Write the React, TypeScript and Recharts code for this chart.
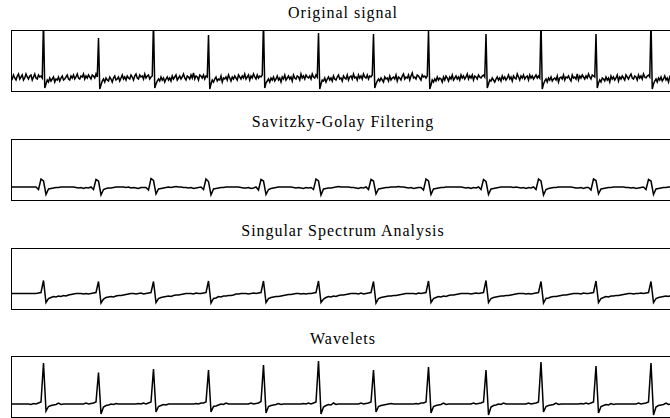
import { LineChart, Line, XAxis, YAxis } from "recharts";

// sample values (height above the bottom of each panel), one row per heartbeat
// raw signal is sampled twice as densely as the filtered ones
const originalSignal = [
    14, 12, 16, 13, 11, 15, 17, 12, 14, 16, 11, 13, 17, 14, 12, 15, 16, 11, 14, 17, 13, 12, 16, 14, 15, 13,
    70, 3, 7, 11, 9, 13, 10, 12, 14, 9, 12, 11, 14, 10, 13, 15, 11, 12, 14, 16, 12, 11, 15, 13, 16, 12, 14, 17, 13, 12, 15, 14, 17, 12, 15, 13, 16, 14, 12, 16, 15, 13, 17, 14,
    53, 2, 6, 10, 12, 9, 13, 11, 10, 14, 12, 9, 13, 15, 11, 12, 14, 10, 13, 16, 12, 14, 11, 15, 13, 12, 16, 14, 11, 15, 17, 13, 12, 16, 14, 15, 12, 17, 13, 15, 16, 12, 14, 15,
    70, 3, 7, 10, 12, 10, 14, 11, 13, 9, 12, 14, 11, 13, 10, 15, 12, 14, 16, 11, 13, 15, 12, 14, 17, 13, 11, 15, 14, 12, 16, 13, 18, 12, 15, 14, 11, 16, 15, 13, 16, 12, 15, 14,
    56, 2, 7, 11, 9, 12, 14, 10, 12, 11, 15, 9, 13, 12, 14, 11, 16, 13, 10, 14, 12, 15, 13, 11, 16, 14, 12, 15, 13, 17, 12, 14, 16, 11, 15, 13, 17, 14, 12, 16, 13, 15, 14, 16,
    70, 3, 8, 10, 12, 9, 13, 11, 14, 10, 12, 15, 11, 13, 9, 14, 12, 16, 11, 13, 15, 12, 14, 10, 16, 13, 12, 15, 14, 11, 17, 13, 15, 12, 16, 14, 13, 15, 12, 17, 14, 13, 16, 14,
    58, 2, 7, 11, 10, 13, 9, 12, 14, 11, 13, 10, 15, 12, 11, 14, 16, 12, 13, 10, 15, 13, 12, 16, 11, 14, 15, 12, 17, 13, 14, 11, 16, 13, 15, 12, 17, 14, 13, 16, 12, 15, 14, 16,
    57, 3, 7, 10, 12, 10, 13, 11, 9, 14, 12, 13, 10, 15, 11, 13, 14, 12, 16, 10, 14, 13, 11, 15, 17, 12, 14, 13, 16, 11, 15, 18, 13, 14, 12, 16, 15, 13, 11, 16, 14, 15, 13, 15,
    60, 2, 6, 11, 9, 12, 10, 14, 11, 13, 12, 9, 14, 11, 15, 13, 10, 14, 12, 16, 11, 13, 15, 12, 14, 11, 16, 13, 15, 12, 14, 17, 12, 15, 13, 16, 11, 15, 14, 12, 16, 14, 13, 15, 16, 14,
    57, 3, 7, 11, 10, 13, 11, 9, 12, 14, 11, 13, 10, 15, 12, 14, 11, 13, 16, 12, 14, 10, 15, 13, 12, 17, 14, 11, 15, 13, 16, 12, 14, 15, 11, 16, 13, 15, 12, 14, 16, 13, 15, 13,
    70, 2, 7, 10, 12, 9, 13, 11, 14, 10, 12, 13, 11, 15, 9, 13, 14, 12, 16, 11, 14, 13, 15, 12, 10, 16, 13, 14, 12, 17, 11, 15, 13, 16, 14, 12, 15, 13, 17, 14, 12, 16, 15, 14,
    57, 3, 8, 11, 9, 13, 12, 10, 14, 11, 13, 9, 15, 12, 14, 11, 13, 16, 10, 14, 12, 15, 13, 11, 16, 14, 12, 15, 17, 13, 12, 15, 14, 11, 16, 13, 15, 12, 17, 14, 13, 15, 16, 14,
    70, 2, 7, 10, 12, 9, 13, 11, 14, 10, 12, 15, 11, 13, 9, 14, 12, 15, 13, 11, 14
];

const savitzkyGolay = [
    13, 13, 13, 13, 13, 13, 13, 13, 13, 13, 13, 10.5,
    21, 19, 5.5, 11, 11.5, 12, 12.5, 12.5, 13, 13, 13, 13, 13, 13, 12.5, 12, 12.5, 11.5, 12.5, 12, 13, 10.5,
    20.5, 19, 5, 10.5, 11.5, 12, 12, 12.5, 13, 13, 13, 13, 12.5, 13, 12, 12.5, 12, 11.5, 12.5, 12.5, 12.5, 10,
    21.5, 19.5, 6, 11, 11.5, 12, 12.5, 13, 12.5, 13, 13.5, 13, 13, 12.5, 12.5, 12, 12.5, 11.5, 12, 12.5, 13, 10.5,
    21, 18.5, 5, 11, 11.5, 12, 12.5, 12.5, 13, 13, 13, 13, 13, 13, 12.5, 12, 12, 12.5, 11.5, 12, 13, 10,
    20.5, 19, 5.5, 10.5, 11.5, 12, 12.5, 13, 13, 13, 13, 13, 13, 12.5, 12, 12.5, 12, 11.5, 12.5, 12, 12.5, 10.5,
    21, 19, 5, 11, 11.5, 12, 12, 12.5, 13, 13.5, 13, 13, 13, 13, 12.5, 12.5, 12, 11.5, 12.5, 12, 13, 10.5,
    20.5, 19, 6, 11, 11.5, 12, 12.5, 12.5, 13, 13, 13, 13.5, 13, 13, 12.5, 12, 12.5, 11.5, 12, 12.5, 12.5, 10,
    21, 19, 5.5, 11, 11.5, 12, 12.5, 12.5, 13, 13, 13, 13, 13, 13, 13, 12.5, 12, 12.5, 11.5, 12.5, 12, 13, 10.5,
    20.5, 18.5, 5.5, 11, 11.5, 12, 12.5, 13, 13, 13, 13, 13, 12.5, 13, 12.5, 12, 12.5, 11.5, 12.5, 12, 13, 10.5,
    21, 19, 5, 10.5, 11.5, 12, 12.5, 12.5, 13, 13, 13, 13, 13, 13, 12.5, 12, 12, 12.5, 11.5, 12.5, 12.5, 10,
    21, 19.5, 6, 11, 11.5, 12, 12.5, 12.5, 13, 13, 13, 13, 13, 12.5, 12.5, 12, 12.5, 11.5, 12, 12.5, 13, 10.5,
    20.5, 19, 5.5, 11, 11.5, 12, 12.5, 12.5, 13, 13, 13, 13
];

const singularSpectrum = [
    15.5, 15.5, 15.5, 15.5, 15.5, 15.5, 15.5, 15.5, 15.5, 15.5, 15.5, 16, 16.5,
    28.5, 6.5, 10.5, 11.5, 12.5, 12, 13, 12.5, 13.5, 13, 14, 14.5, 15, 15.5, 15.5, 15.5, 15, 15.5, 15, 15.5, 16, 16.5,
    27.5, 6, 10, 11.5, 12, 12.5, 12, 13, 13.5, 13.5, 14, 14.5, 15, 15.5, 15.5, 15, 15.5, 16, 15, 15.5, 16, 16.5,
    27.5, 6.5, 10.5, 11.5, 12, 12.5, 13, 12.5, 13.5, 14, 14, 14.5, 15, 15.5, 15.5, 15.5, 15, 16, 15.5, 15.5, 16, 16.5,
    28, 6, 10.5, 11, 12.5, 12, 13, 13, 13.5, 13.5, 14, 15, 15, 15.5, 15.5, 15.5, 15, 15.5, 16, 15.5, 16, 16.5,
    28, 6.5, 10.5, 11.5, 12, 12.5, 12.5, 13, 13.5, 14, 14.5, 14.5, 15, 15.5, 15.5, 15, 15.5, 15, 15.5, 15.5, 16, 16.5,
    28, 6.5, 10, 11.5, 12.5, 12, 13, 12.5, 13.5, 14, 14, 14.5, 15, 15.5, 15.5, 15.5, 15, 16, 15, 15.5, 16, 16.5,
    27.5, 6, 10.5, 11.5, 12, 12.5, 13, 13, 13.5, 13.5, 14, 14.5, 15, 15.5, 15.5, 15.5, 15.5, 15, 16, 15.5, 16, 16.5,
    28, 6.5, 10.5, 11.5, 12.5, 12, 13, 12.5, 13.5, 14, 14, 14.5, 15, 15.5, 15.5, 15.5, 15.5, 15, 15.5, 16, 15.5, 16, 16.5,
    28.5, 6.5, 10.5, 11.5, 12, 12.5, 13, 13, 13.5, 13.5, 14, 14.5, 15, 15.5, 15.5, 15.5, 15, 15.5, 15, 15.5, 16, 16.5,
    27.5, 6, 10.5, 11, 12, 12.5, 12.5, 13, 13.5, 14, 14, 14.5, 15, 15.5, 15.5, 15.5, 15, 16, 15.5, 15.5, 16, 16.5,
    28, 6.5, 10.5, 11.5, 12.5, 12, 13, 13, 13.5, 13.5, 14, 14.5, 15, 15.5, 15.5, 15, 15.5, 15.5, 16, 15.5, 16, 16.5,
    27.5, 6.5, 10.5, 11.5, 12, 12.5, 13, 12.5, 13.5, 14, 14
];

const wavelets = [
    13, 13, 13, 13, 13, 13, 13, 13, 12.5, 13.5, 13, 14, 15,
    54, 6, 10.5, 11.5, 12, 12.5, 14, 12.5, 13, 13, 13, 13, 13, 13, 13, 13, 13, 14, 13, 13.5, 14, 15,
    44.5, 3, 10, 11.5, 12, 13, 12.5, 13.5, 13, 13, 13, 13, 13, 13, 13, 13, 13.5, 13, 14, 13, 14, 15,
    48, 5, 10.5, 11.5, 12.5, 12, 13, 13, 13, 13, 13, 13, 13, 13, 13, 13, 13, 13.5, 13, 14, 14, 15,
    47, 5, 10.5, 11, 12, 13, 12.5, 14, 13, 13, 13, 13, 13, 13, 13, 13, 13, 14, 13, 13.5, 14, 15.5,
    52, 4, 10.5, 11.5, 12, 12.5, 13.5, 12.5, 13, 13, 13, 13, 13, 13, 13, 13, 13.5, 13, 14, 13, 14, 15,
    56, 3, 10, 11.5, 12.5, 12, 14, 12.5, 13, 13, 13, 13, 13, 13, 13, 13, 13, 14, 13, 13.5, 14, 15,
    47, 5, 10.5, 11.5, 12, 12.5, 13, 13.5, 13, 13, 13, 13, 13, 13, 13, 13, 13, 13.5, 13, 14, 14, 15,
    50, 4, 10.5, 11.5, 12, 12.5, 14, 12.5, 13, 13, 13, 13, 13, 13, 13, 13, 13, 13, 14, 13, 13.5, 14, 15,
    47, 2, 10, 11.5, 12, 13, 12.5, 14, 13, 13, 13, 13, 13, 13, 13, 13, 13, 14, 13, 13.5, 14, 15,
    55, 5, 10.5, 11.5, 12, 12.5, 14, 12.5, 13, 13, 13, 13, 13, 13, 13, 13, 13.5, 13, 14, 13, 14, 15,
    51, 4, 10.5, 11.5, 12.5, 12, 13.5, 12.5, 13, 13, 13, 13, 13, 13, 13, 13, 13, 14, 13, 13.5, 14, 15,
    54, 2, 10, 11.5, 12, 12.5, 14, 12.5, 13, 13, 13
];

const panelTitles = ["Original signal", "Savitzky-Golay Filtering", "Singular Spectrum Analysis", "Wavelets"];
const panelSeries = [originalSignal, savitzkyGolay, singularSpectrum, wavelets];

const PANEL_TOPS = [30, 139, 248, 356];
const PANEL_LEFT = 11;
const PANEL_W = 665;
const PANEL_H = 61;

const Panel = ({ title, values, top }: { title: string; values: number[]; top: number }) => {
    const data = values.map((v, i) => ({ i, v }));
    return (
        <>
            <div
                style={{
                    position: "absolute", left: 143, top: top - 25, width: 400, height: 16,
                    lineHeight: "16px", textAlign: "center", fontSize: 16, letterSpacing: "0.95px",
                    fontFamily: "\"Liberation Serif\", \"Times New Roman\", serif", color: "#000"
                }}
            >
                {title}
            </div>
            <div style={{ position: "absolute", left: PANEL_LEFT, top: top }}>
                <LineChart width={PANEL_W} height={PANEL_H} data={data} margin={{ top: 0, right: 0, bottom: 0, left: 0 }}>
                    <XAxis type="number" dataKey="i" domain={[0, values.length - 1]} hide />
                    <YAxis domain={[0, PANEL_H]} hide allowDataOverflow />
                    <Line
                        type="linear"
                        dataKey="v"
                        stroke="#000"
                        strokeWidth={1.5}
                        dot={false}
                        isAnimationActive={false}
                    />
                </LineChart>
            </div>
            {/* frame */}
            <div
                style={{
                    position: "absolute", left: PANEL_LEFT, top: top, width: PANEL_W, height: PANEL_H + 1,
                    border: "1px solid #000", boxSizing: "border-box", pointerEvents: "none"
                }}
            />
        </>
    );
};

const App = () => {
    return (
        <div style={{ position: "fixed", left: 0, top: 0, width: 670, height: 418, overflow: "hidden", background: "#fff" }}>
            {panelTitles.map((t, k) => (
                <Panel key={t} title={t} values={panelSeries[k]} top={PANEL_TOPS[k]} />
            ))}
        </div>
    );
};

export default App;
